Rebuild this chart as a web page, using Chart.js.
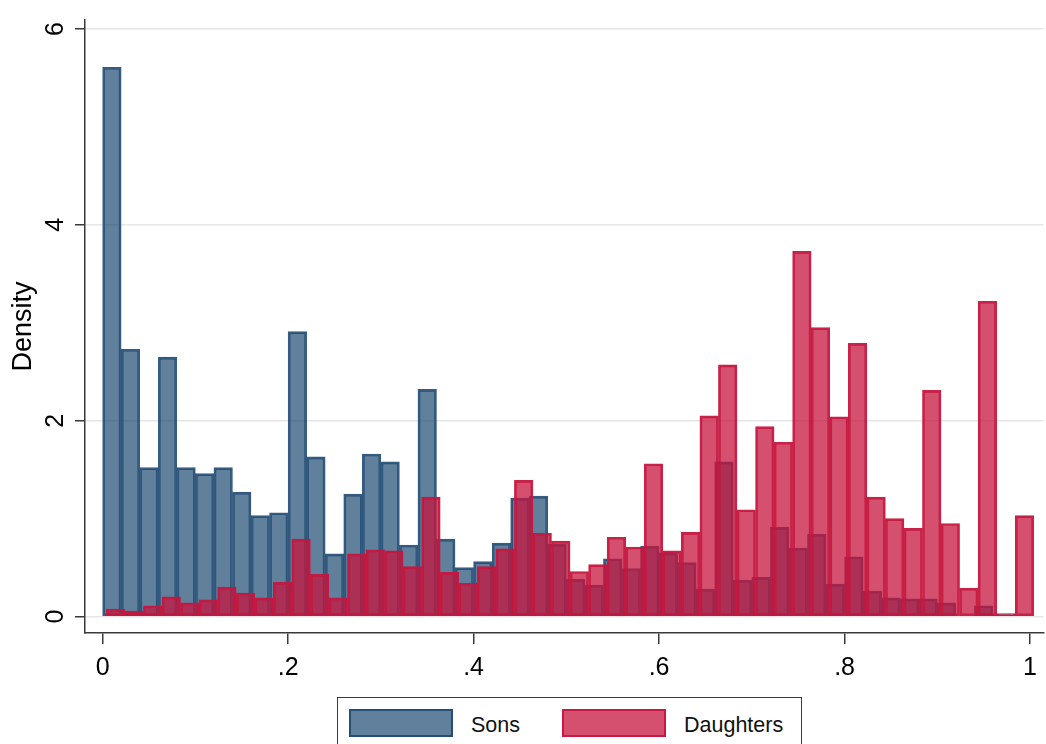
<!DOCTYPE html>
<html>
<head>
<meta charset="utf-8">
<title>Density of shares: sons and daughters</title>
<script src="https://cdn.jsdelivr.net/npm/chart.js@4/dist/chart.umd.min.js"></script>
<style>
  html, body { margin: 0; padding: 0; background: #ffffff; overflow: hidden; }
  #wrap { position: relative; width: 1046px; height: 744px; }
  #chart { display: block; }
  #legend {
    position: absolute; left: 337px; top: 697px; width: 465px; height: 80px;
    box-sizing: border-box; border: 1.5px solid #3a3a3a; background: #ffffff;
    display: flex; align-items: flex-start; padding: 11px 0 0 11px;
    font-family: "Liberation Sans", Arial, sans-serif; font-size: 21.5px; color: #111;
  }
  .item { display: flex; align-items: flex-start; margin-right: 42px; }
  .swatch { width: 104px; height: 28px; box-sizing: border-box; border: 2px solid; }
  .text { margin-left: 18px; line-height: 28px; padding-top: 2px; }
</style>
</head>
<body>
<div id="wrap">
  <canvas id="chart" width="1046" height="744"></canvas>
  <div id="legend"></div>
</div>
<script>
// Histogram densities, 50 bins of width 0.02
const binWidth = 0.02;
const sonsBinStart = 0.0;
const daughtersBinStart = 0.004;

const sonsDensity = [
  5.61, 2.73, 1.52, 2.65, 1.52, 1.46, 1.52, 1.27, 1.03, 1.06,
  2.91, 1.63, 0.64, 1.25, 1.66, 1.58, 0.73, 2.32, 0.79, 0.50,
  0.56, 0.75, 1.21, 1.23, 0.74, 0.38, 0.32, 0.59, 0.49, 0.72,
  0.65, 0.55, 0.28, 1.58, 0.37, 0.40, 0.91, 0.70, 0.84, 0.33,
  0.61, 0.26, 0.19, 0.18, 0.18, 0.14, 0.00, 0.11, 0.02, 0.01
];

const daughtersDensity = [
  0.075, 0.056, 0.11, 0.20, 0.14, 0.17, 0.30, 0.24, 0.19, 0.35,
  0.79, 0.43, 0.19, 0.64, 0.68, 0.67, 0.51, 1.22, 0.45, 0.34,
  0.51, 0.69, 1.39, 0.85, 0.77, 0.46, 0.53, 0.81, 0.71, 1.56,
  0.67, 0.86, 2.05, 2.57, 1.09, 1.94, 1.78, 3.73, 2.95, 2.04,
  2.79, 1.22, 1.00, 0.90, 2.31, 0.95, 0.29, 3.22, 0.03, 1.03
];

const xTickValues = [0, 0.2, 0.4, 0.6, 0.8, 1];
const xTickLabels = ['0', '.2', '.4', '.6', '.8', '1'];
const yTickValues = [0, 2, 4, 6];
const yTickLabels = ['0', '2', '4', '6'];

const seriesNames = ['Sons', 'Daughters'];

// Colours
const sonsFill = 'rgba(26, 71, 111, 0.69)';
const sonsLine = 'rgba(26, 71, 111, 0.88)';
const daughtersFill = 'rgba(198, 22, 62, 0.75)';
const daughtersLine = 'rgba(198, 22, 62, 0.95)';

const FONT = '"Liberation Sans", Arial, sans-serif';
const AXIS = '#3a3a3a';

function toPoints(start, values) {
  return values.map((v, i) => ({ x: start + binWidth * (i + 0.5), y: v }));
}

const xRange = { min: -0.019, max: 1.0143 };

const chart = new Chart(document.getElementById('chart'), {
  type: 'bar',
  data: {
    datasets: [
      {
        label: seriesNames[0],
        data: toPoints(sonsBinStart, sonsDensity),
        xAxisID: 'x',
        backgroundColor: sonsFill,
        borderColor: sonsLine,
        borderWidth: 2,
        borderSkipped: false,
        grouped: false,
        barPercentage: 1,
        categoryPercentage: 1,
        order: 2
      },
      {
        label: seriesNames[1],
        data: toPoints(daughtersBinStart, daughtersDensity),
        xAxisID: 'x2',
        backgroundColor: daughtersFill,
        borderColor: daughtersLine,
        borderWidth: 2,
        borderSkipped: false,
        grouped: false,
        barPercentage: 1,
        categoryPercentage: 1,
        order: 1
      }
    ]
  },
  options: {
    responsive: false,
    animation: false,
    devicePixelRatio: 1,
    layout: { padding: { top: 20, left: 0, right: 0, bottom: 0 } },
    plugins: { legend: { display: false }, tooltip: { enabled: false } },
    scales: {
      x: {
        type: 'linear',
        offset: false,
        min: xRange.min, max: xRange.max,
        afterBuildTicks: s => { s.ticks = xTickValues.map(v => ({ value: v })); },
        afterFit: s => { s.height = 111; },
        grid: { offset: false, drawOnChartArea: false, drawTicks: true, tickLength: 11, tickColor: AXIS, lineWidth: 1.5 },
        border: { display: true, color: AXIS, width: 1.5 },
        ticks: {
          autoSkip: false, maxRotation: 0, minRotation: 0, padding: 9,
          color: '#000', font: { family: FONT, size: 25 },
          callback: (v) => xTickLabels[xTickValues.indexOf(v)] ?? ''
        }
      },
      x2: {
        type: 'linear', display: false, offset: false,
        grid: { offset: false },
        min: xRange.min, max: xRange.max
      },
      y: {
        type: 'linear',
        min: -0.1685, max: 6.093,
        afterBuildTicks: s => { s.ticks = yTickValues.map(v => ({ value: v })); },
        afterFit: s => { s.width = 85; s.paddingTop = 0; s.paddingBottom = 0; },
        grid: { color: '#e6e6e6', lineWidth: 1.5, drawTicks: true, tickLength: 10, tickColor: AXIS },
        border: { display: true, color: AXIS, width: 1.5 },
        ticks: {
          minRotation: 90, maxRotation: 90, crossAlign: 'center', padding: 12,
          color: '#000', font: { family: FONT, size: 25 },
          callback: (v) => yTickLabels[yTickValues.indexOf(v)] ?? ''
        },
        title: {
          display: true, text: 'Density', color: '#000',
          font: { family: FONT, size: 27 },
          padding: { top: 7, bottom: 0 }
        }
      }
    }
  }
});

// Legend built from the chart's datasets
const legend = document.getElementById('legend');
chart.data.datasets.forEach(ds => {
  const item = document.createElement('div');
  item.className = 'item';
  const sw = document.createElement('div');
  sw.className = 'swatch';
  sw.style.background = ds.backgroundColor;
  sw.style.borderColor = ds.borderColor;
  const tx = document.createElement('div');
  tx.className = 'text';
  tx.textContent = ds.label;
  item.appendChild(sw);
  item.appendChild(tx);
  legend.appendChild(item);
});
</script>
</body>
</html>
